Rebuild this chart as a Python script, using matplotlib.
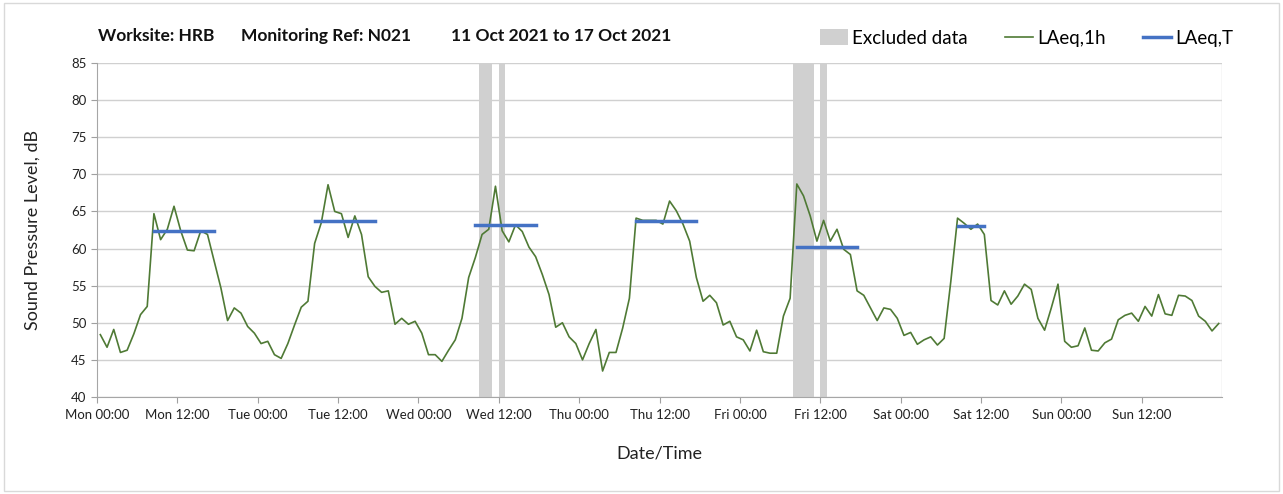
import numpy as np
import matplotlib.pyplot as plt
from matplotlib.patches import Patch, Rectangle
from matplotlib.lines import Line2D

plt.rcParams['font.family'] = ['Lato', 'DejaVu Sans']

# hourly LAeq,1h values, Mon 00:00 .. Sun 23:00
laeq_1h = [
    48.4, 46.7, 49.1, 46.0, 46.3, 48.5, 51.1, 52.2, 64.7, 61.2, 62.6, 65.7,
    62.4, 59.8, 59.7, 62.4, 61.9, 58.3, 54.7, 50.3, 52.0, 51.3, 49.5, 48.6,
    47.2, 47.5, 45.7, 45.2, 47.2, 49.7, 52.1, 52.9, 60.7, 63.5, 68.6, 65.0,
    64.7, 61.5, 64.4, 61.9, 56.2, 54.9, 54.1, 54.3, 49.8, 50.6, 49.8, 50.2,
    48.6, 45.7, 45.7, 44.8, 46.3, 47.7, 50.6, 56.1, 58.8, 61.9, 62.6, 68.4,
    62.4, 60.9, 63.2, 62.3, 60.2, 58.9, 56.5, 53.8, 49.4, 50.0, 48.1, 47.2,
    45.0, 47.2, 49.1, 43.5, 46.0, 46.0, 49.3, 53.3, 64.1, 63.8, 63.8, 63.8,
    63.3, 66.4, 65.1, 63.3, 61.0, 56.1, 52.9, 53.7, 52.7, 49.7, 50.2, 48.1,
    47.7, 46.2, 49.0, 46.1, 45.9, 45.9, 50.9, 53.3, 68.7, 67.1, 64.4, 61.0,
    63.8, 61.0, 62.6, 59.9, 59.2, 54.3, 53.7, 52.0, 50.3, 52.0, 51.8, 50.6,
    48.3, 48.7, 47.1, 47.7, 48.1, 47.0, 47.9, 55.6, 64.1, 63.4, 62.6, 63.3,
    61.9, 53.0, 52.4, 54.3, 52.5, 53.6, 55.2, 54.5, 50.6, 49.0, 52.0, 55.2,
    47.5, 46.7, 46.9, 49.3, 46.3, 46.2, 47.3, 47.8, 50.4, 51.0, 51.3, 50.2,
    52.2, 50.9, 53.8, 51.2, 51.0, 53.7, 53.6, 53.0, 50.9, 50.2, 48.9, 49.9,
]

# LAeq,T periods (start hour index, end hour index, level)
laeq_t_start = [8, 32, 56, 80, 104, 128]
laeq_t_end = [17, 41, 65, 89, 113, 132]
laeq_t_value = [62.4, 63.7, 63.2, 63.7, 60.2, 63.1]

# excluded data periods, hours from Mon 00:00
excl_start = [57, 60.1, 104, 108]
excl_end = [59, 61, 107, 109]

days = ['Mon', 'Tue', 'Wed', 'Thu', 'Fri', 'Sat', 'Sun']
tick_labels = []
for d in days:
    tick_labels.append(d + ' 00:00')
    tick_labels.append(d + ' 12:00')

title_parts = ['Worksite: HRB', 'Monitoring Ref: N021', '11 Oct 2021 to 17 Oct 2021']

hours = np.arange(len(laeq_1h)) + 0.5

fig = plt.figure(figsize=(12.83, 4.94), dpi=100)
ax = fig.add_axes([0.0756, 0.1964, 0.8769, 0.676])

for s, e in zip(excl_start, excl_end):
    ax.axvspan(s, e, color='#d0d0d0', lw=0, zorder=1)

ax.plot(hours, laeq_1h, color='#4f7a35', lw=1.2, zorder=3)
for s, e, v in zip(laeq_t_start, laeq_t_end, laeq_t_value):
    ax.plot([hours[s], hours[e]], [v, v], color='#4472c4', lw=2.5, zorder=4)

ax.set_xlim(0, 168)
ax.set_ylim(40, 85)
ax.set_yticks(np.arange(40, 86, 5))
ax.set_xticks(np.arange(0, 168, 12))
ax.set_xticklabels(tick_labels)
ax.set_xticks(np.arange(24, 169, 24), minor=True)
ax.grid(axis='y', color='#d0d0d0', lw=1, zorder=0)
ax.grid(axis='x', which='minor', color='#d9d9d9', lw=1, zorder=0)
ax.tick_params(axis='x', which='minor', length=0)
ax.tick_params(axis='both', which='major', colors='#a0a0a0', labelcolor='#222222',
               labelsize=9.5, length=4)
ax.tick_params(axis='x', pad=5)
for side in ['top', 'right']:
    ax.spines[side].set_visible(False)
for side in ['left', 'bottom']:
    ax.spines[side].set_color('#a6a6a6')

ax.set_ylabel('Sound Pressure Level, dB', fontsize=13, color='#222222', labelpad=22)
ax.set_xlabel('Date/Time', fontsize=13, color='#222222', labelpad=17)

# title in three pieces, spaced like the original
for xp, txt in zip([0.0764, 0.1878, 0.3515], title_parts):
    fig.text(xp, 0.928, txt, fontsize=12.5, fontweight='bold', color='#111111', va='center')

handles = [Patch(facecolor='#d0d0d0', edgecolor='none'),
           Line2D([], [], color='#4f7a35', lw=1.2),
           Line2D([], [], color='#4472c4', lw=2.5)]
fig.legend(handles, ['Excluded data', 'LAeq,1h', 'LAeq,T'], loc='center right',
           bbox_to_anchor=(0.961, 0.923), ncol=3, frameon=False, fontsize=13.5,
           handlelength=1.5, handleheight=0.9, handletextpad=0.2, columnspacing=2.0,
           borderpad=0, borderaxespad=0)

fig.patches.append(Rectangle((0.003, 0.006), 0.994, 0.988, transform=fig.transFigure,
                             fill=False, edgecolor='#d9d9d9', lw=1))

fig.savefig('out.png', dpi=100)
